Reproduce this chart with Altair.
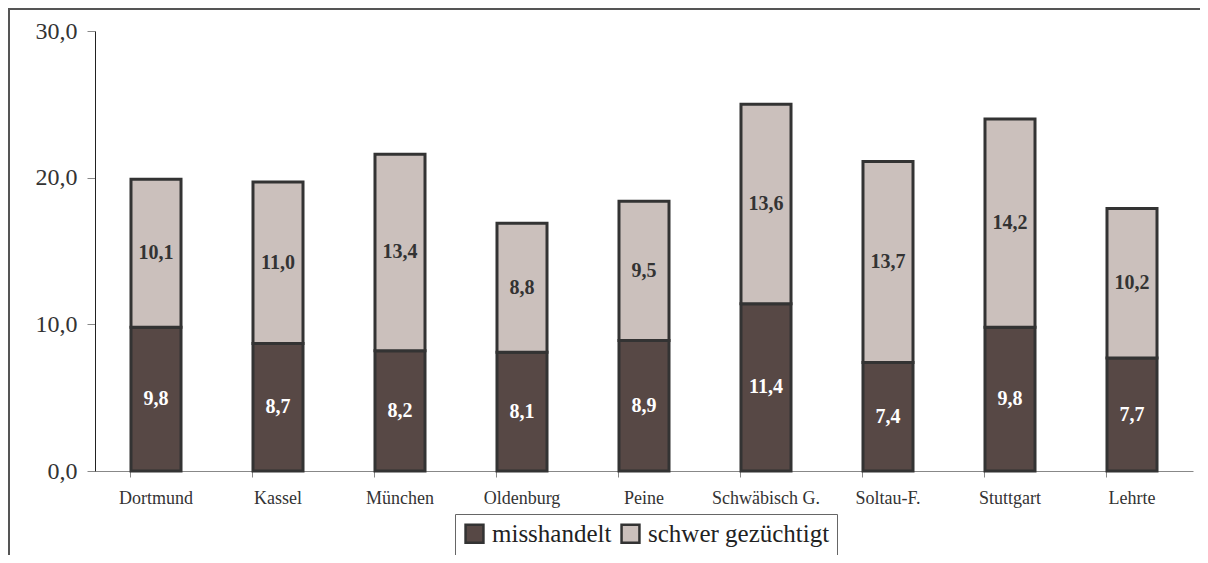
import altair as alt
import pandas as pd

cities = ["Dortmund", "Kassel", "München", "Oldenburg", "Peine",
          "Schwäbisch G.", "Soltau-F.", "Stuttgart", "Lehrte"]
misshandelt = [9.8, 8.7, 8.2, 8.1, 8.9, 11.4, 7.4, 9.8, 7.7]
schwer = [10.1, 11.0, 13.4, 8.8, 9.5, 13.6, 13.7, 14.2, 10.2]
series = ["misshandelt", "schwer gezüchtigt"]
colors = ["#574845", "#cbc0bc"]
label_colors = ["#ffffff", "#333333"]

rows = []
for c, m, s in zip(cities, misshandelt, schwer):
    rows.append(dict(city=c, series=series[0], y0=0.0, y1=m, mid=m / 2,
                     label=f"{m:.1f}".replace(".", ","), lc=label_colors[0]))
    rows.append(dict(city=c, series=series[1], y0=m, y1=m + s, mid=m + s / 2,
                     label=f"{s:.1f}".replace(".", ","), lc=label_colors[1]))
df = pd.DataFrame(rows)

FONT = "'Liberation Serif', 'Times New Roman', serif"
W, H = 1098, 440

xenc = alt.X("city:N", sort=cities, title=None,
             scale=alt.Scale(paddingInner=0.59, paddingOuter=0.295),
             axis=alt.Axis(labelAngle=0, labelFontSize=18, labelColor="#333333",
                           labelFont=FONT, domainColor="#888888", tickColor="#888888",
                           tickSize=6, bandPosition=0, labelPadding=12))

bars = alt.Chart(df).mark_bar(stroke="#333333", strokeWidth=3).encode(
    x=xenc,
    y=alt.Y("y0:Q", title=None,
            scale=alt.Scale(domain=[0, 30], nice=False),
            axis=alt.Axis(values=[0, 10, 20, 30], grid=False,
                          labelExpr="replace(format(datum.value, '.1f'), '.', ',')",
                          labelFontSize=24, labelFont=FONT, labelColor="#333333",
                          tickSize=8, tickColor="#888888", labelPadding=10,
                          domainColor="#222222")),
    y2="y1:Q",
    color=alt.Color("series:N", scale=alt.Scale(domain=series, range=colors),
                    title=None,
                    legend=alt.Legend(orient="none", legendX=360, legendY=483,
                                      direction="horizontal", symbolType="square",
                                      symbolSize=320, symbolStrokeColor="#333333",
                                      symbolStrokeWidth=2.5, labelFontSize=25,
                                      labelFont=FONT, labelColor="#222222",
                                      labelLimit=500,
                                      strokeColor="#666666", padding=7,
                                      columnPadding=4, labelOffset=5)),
)

labels = alt.Chart(df).mark_text(fontWeight="bold", fontSize=20, font=FONT,
                                 baseline="middle").encode(
    x=alt.X("city:N", sort=cities),
    y=alt.Y("mid:Q"),
    text="label:N",
    color=alt.Color("lc:N", scale=None),
)

frame = alt.Chart(pd.DataFrame({"a": [0]})).mark_rect(
    fill=None, stroke="#555555", strokeWidth=2, clip=False).encode(
    x=alt.value(-86), x2=alt.value(1300), y=alt.value(-22), y2=alt.value(700))

chart = alt.layer(frame, bars, labels).properties(
    width=W, height=H,
    padding={"left": 87, "top": 23, "right": 7, "bottom": 84},
    autosize=alt.AutoSizeParams(type="none"),
).configure(font=FONT, view=alt.ViewConfig(stroke=None))

chart.save("out.html", embed_options={"renderer": "svg", "actions": False})
